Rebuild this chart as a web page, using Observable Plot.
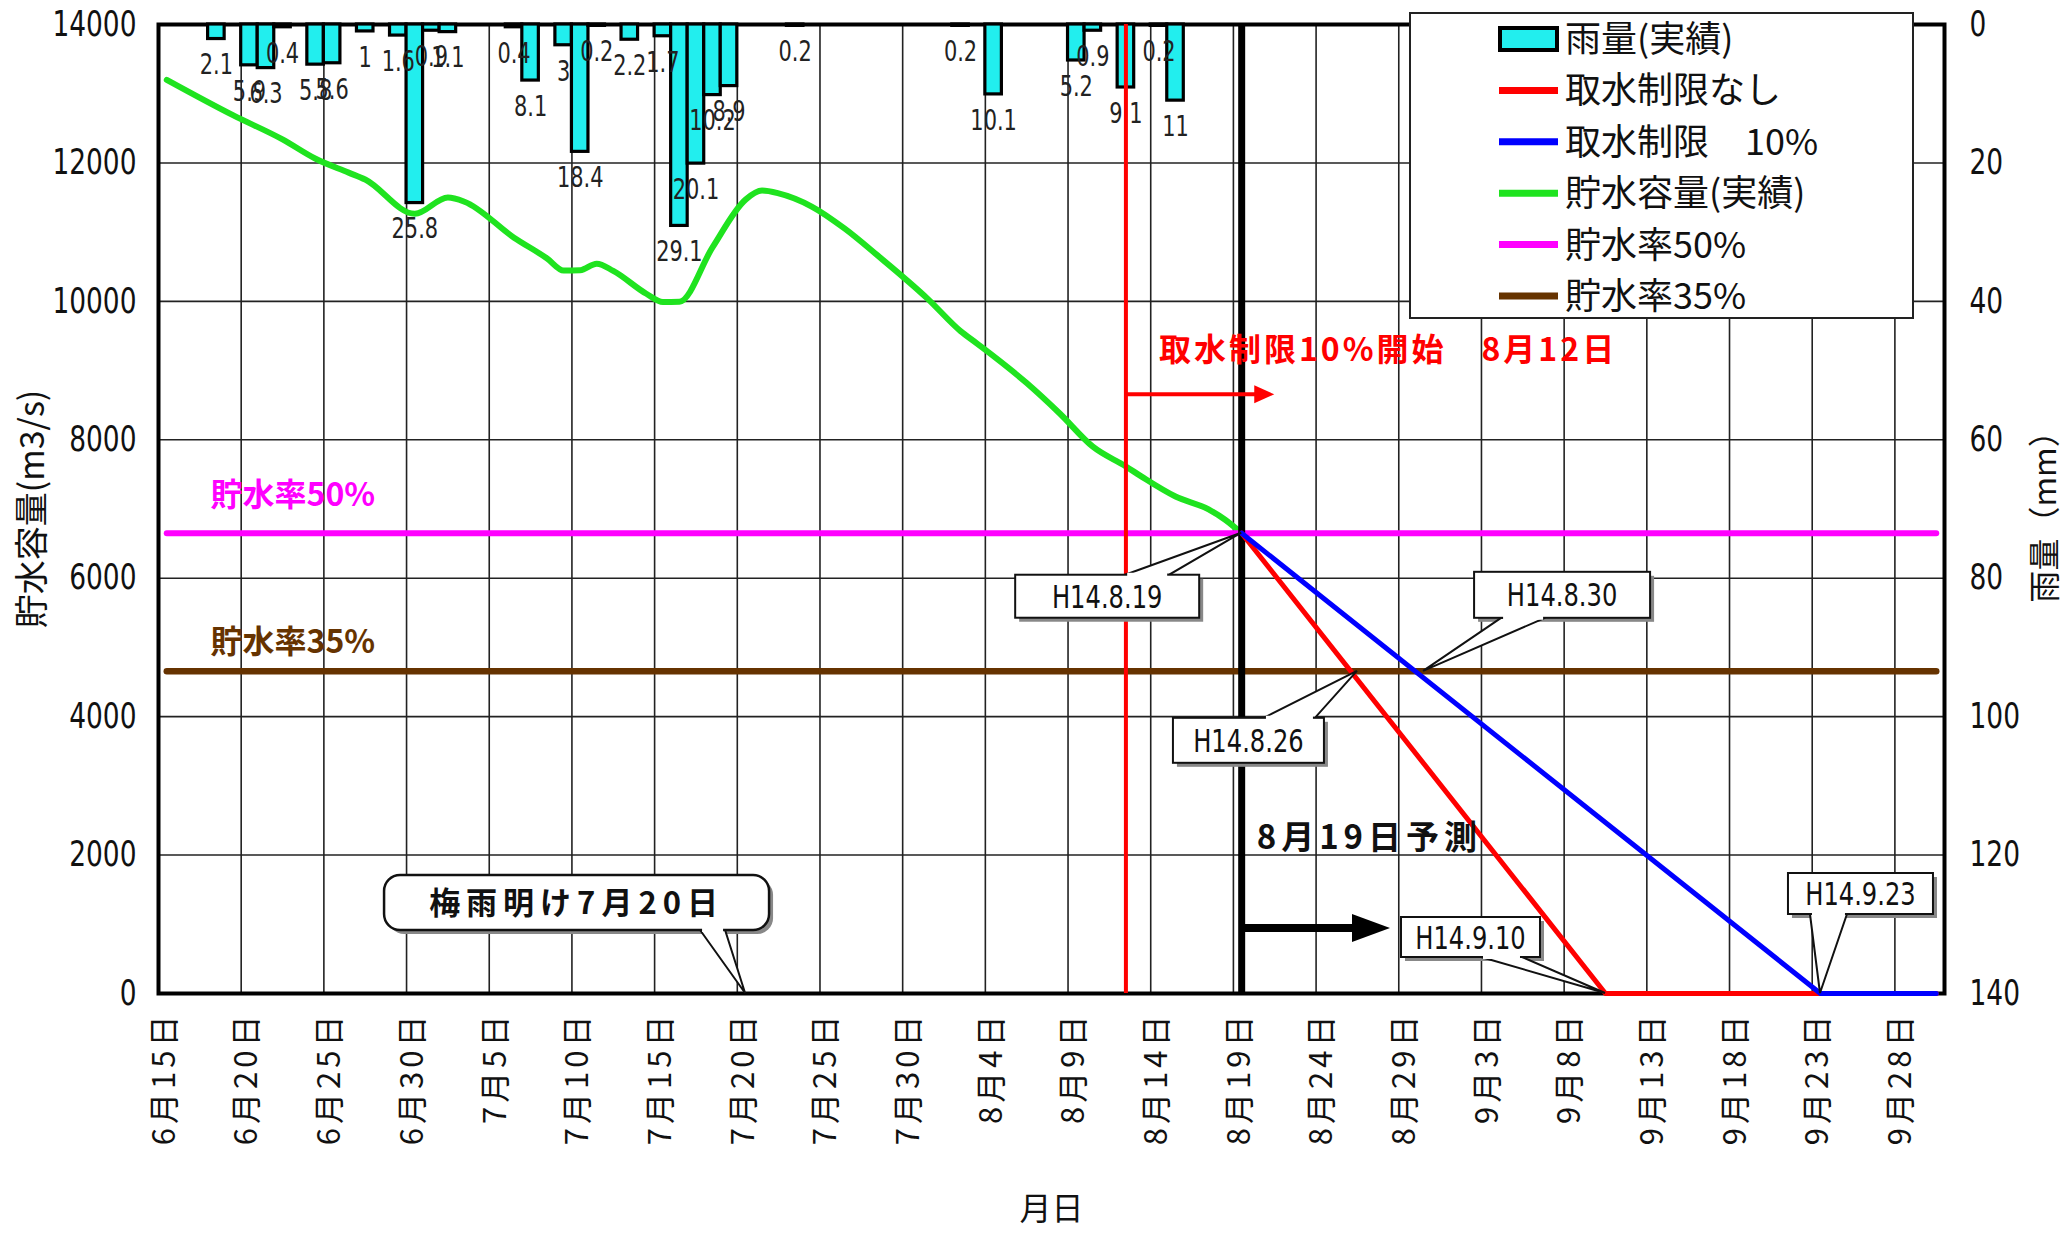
<!DOCTYPE html>
<html><head><meta charset="utf-8">
<script src="https://cdn.jsdelivr.net/npm/d3@7"></script>
<script src="https://cdn.jsdelivr.net/npm/@observablehq/plot@0.6"></script>
<style>
html,body{margin:0;padding:0;background:#fff;}
#chart svg{display:block;}
</style></head><body><div id="chart"></div>
<script>
// ---------------- data ----------------
const xTickLabels = ["6月15日","6月20日","6月25日","6月30日","7月5日","7月10日","7月15日","7月20日","7月25日","7月30日","8月4日","8月9日","8月14日","8月19日","8月24日","8月29日","9月3日","9月8日","9月13日","9月18日","9月23日","9月28日"];
const yTicks = [0,2000,4000,6000,8000,10000,12000,14000];
const rainTicks = [0,20,40,60,80,100,120,140];

const rainDates = ["6/18","6/20","6/21","6/22","6/24","6/25","6/27","6/29","6/30","7/1","7/2","7/6","7/7","7/9","7/10","7/11","7/13","7/15","7/16","7/17","7/18","7/19","7/23","8/2","8/4","8/9","8/10","8/12","8/14","8/15"];
const rainMm = [2.1,5.9,6.3,0.4,5.8,5.6,1,1.6,25.8,0.9,1.1,0.4,8.1,3,18.4,0.2,2.2,1.7,29.1,20.1,10.2,8.9,0.2,0.2,10.1,5.2,0.9,9.1,0.2,11];

const storageDates = ["6/15","6/19","6/22","6/24","6/26","6/27","6/30","7/2","7/3","7/6","7/8","7/9","7/10","7/11","7/12","7/14","7/15","7/16","7/18","7/20","7/21","7/22","7/24","7/26","7/28","7/31","8/2","8/3","8/6","8/8","8/10","8/12","8/13","8/15","8/17","8/18","8/19"];
const storageValues = [13200,12690,12340,12060,11860,11760,11265,11500,11440,10920,10620,10445,10450,10545,10440,10110,9990,9995,10780,11470,11600,11560,11370,11050,10660,10040,9570,9390,8820,8380,7900,7615,7460,7180,6995,6845,6650];

const noLimitDates = ["8/19","9/10","9/30"];
const noLimitValues = [6650,0,0];
const limit10Dates = ["8/19","9/23","9/30"];
const limit10Values = [6650,0,0];

const rate50Value = 6650, rate35Value = 4655;
const rateLineDates = ["6/15","9/30"];
const restrictionDate = "8/12";
const forecastDate = "8/19";

const calloutLabels = ["H14.8.19","H14.8.26","H14.8.30","H14.9.10","H14.9.23"];
const calloutDates  = ["8/19","8/26","8/30","9/10","9/23"];
const calloutValues = [6650,4655,4655,0,0];

const legendLabels = ["雨量(実績)","取水制限なし","取水制限　10%","貯水容量(実績)","貯水率50%","貯水率35%"];

const restrictionText = "取水制限10%開始　8月12日";
const forecastText = "8月19日予測";
const tsuyuText = "梅雨明け7月20日";

// ---------------- helpers ----------------
const JP = "'Noto Sans CJK JP','Noto Sans',sans-serif";
const NARROW = "'Liberation Sans Narrow','Arial Narrow','DejaVu Sans Condensed','Liberation Sans',sans-serif";
const parseMD = s => { const [m,d] = s.split("/").map(Number); return Date.UTC(2002, m-1, d); };
const ORIGIN = parseMD("6/15");
const day = s => (parseMD(s) - ORIGIN) / 864e5;
const mid = s => day(s) + 0.5;
const labelToMD = l => l.replace("月","/").replace("日","");
const rainToY = mm => 14000 - mm * (14000 / 140);

const rain = rainDates.map((d,i) => ({day: day(d), mm: rainMm[i]}));
const storage = storageDates.map((d,i) => ({x: mid(d), y: storageValues[i]}));
const noLimit = noLimitDates.map((d,i) => ({x: mid(d), y: noLimitValues[i]}));
const limit10 = limit10Dates.map((d,i) => ({x: mid(d), y: limit10Values[i]}));
const rate50 = rateLineDates.map(d => ({x: mid(d), y: rate50Value}));
const rate35 = rateLineDates.map(d => ({x: mid(d), y: rate35Value}));

const C = {rainFill:"#22eeee", red:"#ff0000", blue:"#0000ff", green:"#1fe31f", magenta:"#ff00ff", brown:"#663300"};
const BAR_LABEL_SIZE = 29, TICK_SIZE = 35;

const plot = Plot.plot({
  width: 2062, height: 1239,
  marginTop: 24, marginRight: 118, marginBottom: 246, marginLeft: 158,
  x: {type: "linear", domain: [0, day("10/1")], axis: null},
  y: {domain: [0, 14000], axis: null},
  style: {fontFamily: JP, background: "#fff", overflow: "visible"},
  marks: [
    Plot.ruleX(xTickLabels.slice(1), {x: l => day(labelToMD(l)), stroke: "#222", strokeWidth: 1.6}),
    Plot.ruleY(yTicks.slice(1, -1), {y: d => d, stroke: "#222", strokeWidth: 1.6}),
    Plot.frame({stroke: "#000", strokeWidth: 4}),
    Plot.rect(rain, {x1: d => d.day, x2: d => d.day + 1, y1: 14000, y2: d => rainToY(d.mm), fill: C.rainFill, stroke: "#000", strokeWidth: 3.2, inset: 0}),
    Plot.text(rain, {x: d => d.day + 0.5, y: d => rainToY(d.mm), text: d => String(d.mm), dy: 26, fontFamily: NARROW, fontSize: BAR_LABEL_SIZE, fill: "#222"}),
    Plot.line(storage, {x: "x", y: "y", stroke: C.green, strokeWidth: 6, curve: "monotone-x", strokeLinejoin: "round"}),
    Plot.line(rate50, {x: "x", y: "y", stroke: C.magenta, strokeWidth: 6}),
    Plot.line(rate35, {x: "x", y: "y", stroke: C.brown, strokeWidth: 6.5}),
    Plot.ruleX([mid(restrictionDate)], {stroke: C.red, strokeWidth: 4}),
    Plot.ruleX([mid(forecastDate)], {stroke: "#000", strokeWidth: 7}),
    Plot.line(noLimit, {x: "x", y: "y", stroke: C.red, strokeWidth: 5}),
    Plot.line(limit10, {x: "x", y: "y", stroke: C.blue, strokeWidth: 5}),
    // axes tick labels
    Plot.text(yTicks, {frameAnchor: "left", y: d => d, text: d => String(d), textAnchor: "end", dx: -22, fontFamily: NARROW, fontSize: TICK_SIZE, fill: "#111"}),
    Plot.text(rainTicks, {frameAnchor: "right", y: d => rainToY(d), text: d => String(d), textAnchor: "start", dx: 25, fontFamily: NARROW, fontSize: TICK_SIZE, fill: "#111"}),
    Plot.text(xTickLabels, {x: l => mid(labelToMD(l)), frameAnchor: "bottom", rotate: -90, textAnchor: "end", dx: 8, dy: 18, fontSize: 31, fill: "#111"}),
    // axis titles
    Plot.text(["貯水容量(m3/s)"], {frameAnchor: "left", dx: -125, rotate: -90, textAnchor: "middle", fontSize: 34, fill: "#111"}),
    Plot.text(["雨量（mm）"], {frameAnchor: "right", dx: 101, rotate: -90, textAnchor: "middle", fontSize: 32, fill: "#111"}),
    Plot.text(["月日"], {frameAnchor: "bottom", dy: 226, textAnchor: "middle", fontSize: 32, fill: "#111"}),
    // annotations
    Plot.text(["貯水率50%"], {frameAnchor: "left", y: rate50Value, dx: 52, dy: -37, textAnchor: "start", fill: C.magenta, fontWeight: "bold", fontSize: 32}),
    Plot.text(["貯水率35%"], {frameAnchor: "left", y: rate35Value, dx: 52, dy: -29, textAnchor: "start", fill: C.brown, fontWeight: "bold", fontSize: 32}),
    Plot.text([restrictionText], {x: mid(restrictionDate), y: 9290, dx: 33, textAnchor: "start", fill: C.red, fontWeight: "bold", fontSize: 32}),
    Plot.text([forecastText], {x: mid(forecastDate), y: 2240, dx: 15, textAnchor: "start", fill: "#111", fontWeight: "bold", fontSize: 33})
  ]
});
document.getElementById("chart").appendChild(plot);

const svg = d3.select(plot);
const byText = list => svg.selectAll("text").filter(function () { return list.includes(this.textContent); });
byText(xTickLabels).style("letter-spacing", "4px");
byText([restrictionText]).style("letter-spacing", "3px");
byText([forecastText]).style("letter-spacing", "5px");
function squeeze(sel, f) {
  sel.each(function () {
    const L = this.getComputedTextLength();
    this.setAttribute("textLength", (L * f).toFixed(1));
    this.setAttribute("lengthAdjust", "spacingAndGlyphs");
  });
}
const groupsBySize = s => svg.selectAll("g").filter(function () { return this.getAttribute("font-size") == String(s); });
squeeze(groupsBySize(BAR_LABEL_SIZE).selectAll("text"), 0.8);
squeeze(groupsBySize(TICK_SIZE).selectAll("text"), 0.84);

const X = v => plot.scale("x").apply(v);
const Y = v => plot.scale("y").apply(v);

// arrows
function arrow(x1, x2, y, color, w, headLen, headHalf) {
  const g = svg.append("g");
  g.append("line").attr("x1", x1).attr("x2", x2 - headLen + 1).attr("y1", y).attr("y2", y)
    .attr("stroke", color).attr("stroke-width", w);
  g.append("path").attr("d", `M${x2},${y}L${x2 - headLen},${y - headHalf}L${x2 - headLen},${y + headHalf}Z`).attr("fill", color);
}
arrow(X(mid(restrictionDate)), X(mid("8/21")), Y(8650), C.red, 4, 20, 9);
arrow(X(mid(forecastDate)), X(mid("8/28")), Y(940), "#000", 8, 38, 14);

// callouts (box layout relative to tip, in px)
const calloutLayout = [
  {dx: -226, dy: 42, w: 184, h: 43, edge: "top", b0: -116, b1: -72},
  {dx: -184, dy: 47, w: 151, h: 45, edge: "top", b0: -93, b1: -42},
  {dx: 51, dy: -99, w: 176, h: 46, edge: "bottom", b0: 78, b1: 122},
  {dx: -204, dy: -76, w: 139, h: 40, edge: "bottom", b0: -124, b1: -83},
  {dx: -32, dy: -120, w: 145, h: 41, edge: "bottom", b0: -10, b1: 27}
];
function callout(tx, ty, L, text, opt = {}) {
  const g = svg.append("g");
  const x0 = tx + L.dx, y0 = ty + L.dy, x1 = x0 + L.w, y1 = y0 + L.h;
  const ey = L.edge === "top" ? y0 : y1;
  const r = opt.rx || 0;
  g.append("rect").attr("x", x0 + 4).attr("y", y0 + 4).attr("width", L.w).attr("height", L.h).attr("rx", r).attr("fill", "#888");
  g.append("path").attr("d", `M${tx + L.b0},${ey}L${tx},${ty}L${tx + L.b1},${ey}Z`).attr("fill", "#fff").attr("stroke", "#111").attr("stroke-width", 2).attr("stroke-linejoin", "miter");
  g.append("rect").attr("x", x0).attr("y", y0).attr("width", L.w).attr("height", L.h).attr("rx", r).attr("fill", "#fff").attr("stroke", "#111").attr("stroke-width", opt.sw || 2);
  g.append("line").attr("x1", tx + L.b0 + 2).attr("x2", tx + L.b1 - 2).attr("y1", ey).attr("y2", ey).attr("stroke", "#fff").attr("stroke-width", 4);
  const t = g.append("text").attr("x", (x0 + x1) / 2).attr("y", (y0 + y1) / 2).attr("dy", "0.36em").attr("text-anchor", "middle")
    .attr("font-family", opt.font || NARROW).attr("font-size", opt.size || 32).attr("font-weight", opt.weight || "normal")
    .style("letter-spacing", opt.ls || "0px").attr("fill", "#111").text(text);
  if (!opt.font) squeeze(t, 0.84);
}
calloutLabels.forEach((t, i) => callout(X(mid(calloutDates[i])), Y(calloutValues[i]), calloutLayout[i], t));
callout(X(mid("7/20")), Y(0), {dx: -361, dy: -118, w: 385, h: 55, edge: "bottom", b0: -45, b1: -20}, tsuyuText,
  {rx: 16, font: JP, size: 31, weight: "bold", ls: "6px", sw: 2.5});

// legend
const lg = svg.append("g").attr("transform", "translate(1410,13)");
lg.append("rect").attr("width", 503).attr("height", 305).attr("fill", "#fff").attr("stroke", "#222").attr("stroke-width", 2);
const swatchColors = [null, C.red, C.blue, C.green, C.magenta, C.brown];
legendLabels.forEach((lab, i) => {
  const cy = 26 + i * 51.4;
  if (i === 0) {
    lg.append("rect").attr("x", 90).attr("y", cy - 11).attr("width", 57).attr("height", 22).attr("fill", C.rainFill).attr("stroke", "#000").attr("stroke-width", 4);
  } else {
    lg.append("line").attr("x1", 89).attr("x2", 148).attr("y1", cy).attr("y2", cy).attr("stroke", swatchColors[i]).attr("stroke-width", 7);
  }
  lg.append("text").attr("x", 155).attr("y", cy).attr("dy", "0.36em").attr("text-anchor", "start")
    .attr("font-family", JP).attr("font-size", 36).attr("fill", "#111").text(lab);
});
</script>
</body></html>
